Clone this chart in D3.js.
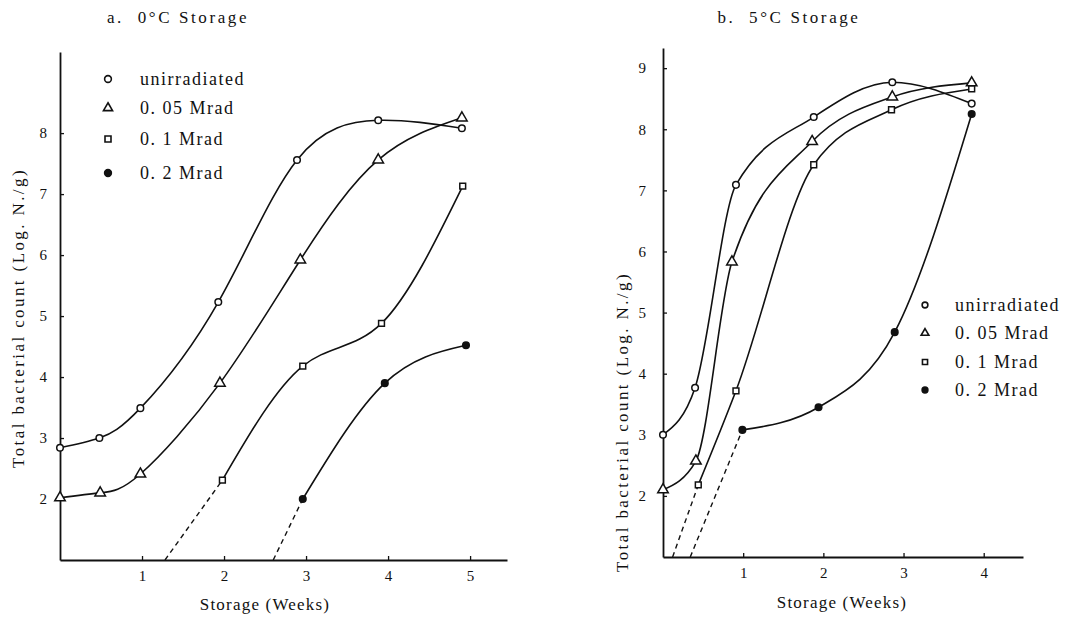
<!DOCTYPE html>
<html>
<head>
<meta charset="utf-8">
<script src="https://cdn.jsdelivr.net/npm/d3@7"></script>
<style>
body { margin: 0; background: #fff; }
svg text { font-family: "Liberation Serif", "Times New Roman", Times, "DejaVu Serif", "Noto Serif", serif !important; fill: #111; }
</style>
</head>
<body>
<svg id="chart" width="1071" height="617"></svg>
<script>
// legend labels, same order for both panels
var seriesNames = ["unirradiated", "0. 05 Mrad", "0. 1 Mrad", "0. 2 Mrad"];

// a. 0°C storage (weeks, log N/g)
var aWeeks = [
    [0, 0.48, 0.98, 1.93, 2.89, 3.88, 4.9],
    [0, 0.49, 0.98, 1.95, 2.93, 3.88, 4.9],
    [1.98, 2.96, 3.92, 4.91],
    [2.96, 3.96, 4.95]
];
var aCounts = [
    [2.84, 3.0, 3.49, 5.23, 7.56, 8.21, 8.08],
    [2.02, 2.1, 2.41, 3.9, 5.92, 7.56, 8.25],
    [2.31, 4.18, 4.88, 7.13],
    [2.0, 3.9, 4.52]
];
// where the dashed extrapolation meets the x axis
var aDashStart = [null, null, 1.28, 2.6];

// b. 5°C storage
var bWeeks = [
    [0, 0.4, 0.91, 1.88, 2.86, 3.85],
    [0, 0.41, 0.86, 1.86, 2.86, 3.85],
    [0.44, 0.91, 1.88, 2.85, 3.85],
    [0.99, 1.94, 2.89, 3.85]
];
var bCounts = [
    [3.0, 3.77, 7.09, 8.2, 8.77, 8.42],
    [2.1, 2.57, 5.83, 7.8, 8.53, 8.76],
    [2.18, 3.72, 7.42, 8.32, 8.66],
    [3.08, 3.45, 4.68, 8.25]
];
var bDashStart = [null, null, 0.12, 0.34];

var aXTicks = [1, 2, 3, 4, 5];
var aYTicks = [2, 3, 4, 5, 6, 7, 8];
var bXTicks = [1, 2, 3, 4];
var bYTicks = [2, 3, 4, 5, 6, 7, 8, 9];

var serif = '"Liberation Serif", "Times New Roman", Times, "DejaVu Serif", serif';

var svg = d3.select('#chart');
svg.append('rect').attr('width', 1071).attr('height', 617).attr('fill', '#fff');

var symbols = [d3.symbolCircle, d3.symbolTriangle, d3.symbolSquare, d3.symbolCircle];
var filled = [false, false, false, true];

function drawPanel(p)
{
    var x = d3.scaleLinear([0, p.xMax], p.xRange);
    var y = d3.scaleLinear([1, 9.33], p.yRange);
    var g = svg.append('g').attr('font-family', serif);

    var xAxis = d3.axisBottom(x).tickValues(p.xTicks).tickFormat(d3.format('d'))
        .tickSizeInner(-4).tickSizeOuter(0).tickPadding(10);
    g.append('g').attr('transform', 'translate(0,' + p.yRange[0] + ')').call(xAxis)
        .attr('font-family', serif);

    var yAxis = d3.axisLeft(y).tickValues(p.yTicks).tickFormat(d3.format('d'))
        .tickSizeInner(-4).tickSizeOuter(0).tickPadding(p.yPad);
    g.append('g').attr('transform', 'translate(' + p.xRange[0] + ',0)').call(yAxis)
        .attr('font-family', serif);

    g.selectAll('.domain').attr('stroke', '#111').attr('stroke-width', 1.8);
    g.selectAll('.tick line').attr('stroke', '#111').attr('stroke-width', 1.3);
    g.selectAll('.tick text').attr('font-size', 15).attr('fill', p.tickColor);

    var line = d3.line()
        .x(d => x(d[0]))
        .y(d => y(d[1]))
        .curve(p.curve);

    for (var i = 0; i < p.weeks.length; i++)
    {
        var pts = p.weeks[i].map((w, j) => [w, p.counts[i][j]]);

        if (p.dash[i] != null)
        {
            g.append('path')
            .attr('d', d3.line()([[x(p.dash[i]), y(1)], [x(pts[0][0]), y(pts[0][1])]]))
            .attr('fill', 'none')
            .attr('stroke', '#111')
            .attr('stroke-width', 1.4)
            .attr('stroke-dasharray', '5,4');
        }

        g.append('path')
        .datum(pts)
        .attr('d', line)
        .attr('fill', 'none')
        .attr('stroke', '#111')
        .attr('stroke-width', 1.6);

        g.selectAll(null)
        .data(pts)
        .enter()
        .append('path')
        .attr('transform', d => 'translate(' + x(d[0]) + ',' + y(d[1]) + ')')
        .attr('d', d3.symbol().type(symbols[i]).size(i == 1 ? 48 : 34))
        .attr('fill', filled[i] ? '#111' : '#fff')
        .attr('stroke', '#111')
        .attr('stroke-width', 1.5);
    }

    // legend
    for (var k = 0; k < seriesNames.length; k++)
    {
        g.append('path')
        .attr('transform', 'translate(' + p.legX + ',' + p.legY[k] + ')')
        .attr('d', d3.symbol().type(symbols[k]).size(p.legSize))
        .attr('fill', filled[k] ? '#111' : '#fff')
        .attr('stroke', '#111')
        .attr('stroke-width', 1.6);

        g.append('text')
        .attr('x', p.legTextX)
        .attr('y', p.legY[k])
        .attr('dy', '0.32em')
        .attr('font-size', 18)
        .attr('letter-spacing', 1.5)
        .text(seriesNames[k]);
    }

    g.append('text')
    .attr('x', p.titleX)
    .attr('y', 23)
    .attr('text-anchor', 'middle')
    .attr('font-size', 17)
    .attr('letter-spacing', 2.6)
    .style('white-space', 'pre')
    .text(p.title);

    g.append('text')
    .attr('x', p.xLabelX)
    .attr('y', p.xLabelY)
    .attr('text-anchor', 'middle')
    .attr('font-size', 17)
    .attr('letter-spacing', 1.2)
    .text('Storage (Weeks)');

    g.append('text')
    .attr('transform', 'translate(' + p.yLabelX + ',' + p.yLabelY + ') rotate(-90)')
    .attr('text-anchor', 'middle')
    .attr('font-size', 17)
    .attr('letter-spacing', 2.4)
    .text('Total bacterial count (Log. N./g)');
}

drawPanel({
    title: 'a.  0°C Storage', titleX: 178,
    xMax: 5.45, xRange: [60, 507], yRange: [560, 52],
    xTicks: aXTicks, yTicks: aYTicks, yPad: 13, tickColor: '#111',
    weeks: aWeeks, counts: aCounts, dash: aDashStart,
    curve: d3.curveNatural,
    legX: 108, legY: [79, 108, 139, 173], legTextX: 140, legSize: 36,
    xLabelX: 265, xLabelY: 610, yLabelX: 24, yLabelY: 318
});

drawPanel({
    title: 'b.  5°C Storage', titleX: 789,
    xMax: 4.49, xRange: [663, 1023], yRange: [557, 48],
    xTicks: bXTicks, yTicks: bYTicks, yPad: 17, tickColor: '#555',
    weeks: bWeeks, counts: bCounts, dash: bDashStart,
    curve: d3.curveMonotoneX,
    legX: 925, legY: [305, 333, 362, 390], legTextX: 955, legSize: 26,
    xLabelX: 842, xLabelY: 608, yLabelX: 628, yLabelY: 422
});
</script>
</body>
</html>
